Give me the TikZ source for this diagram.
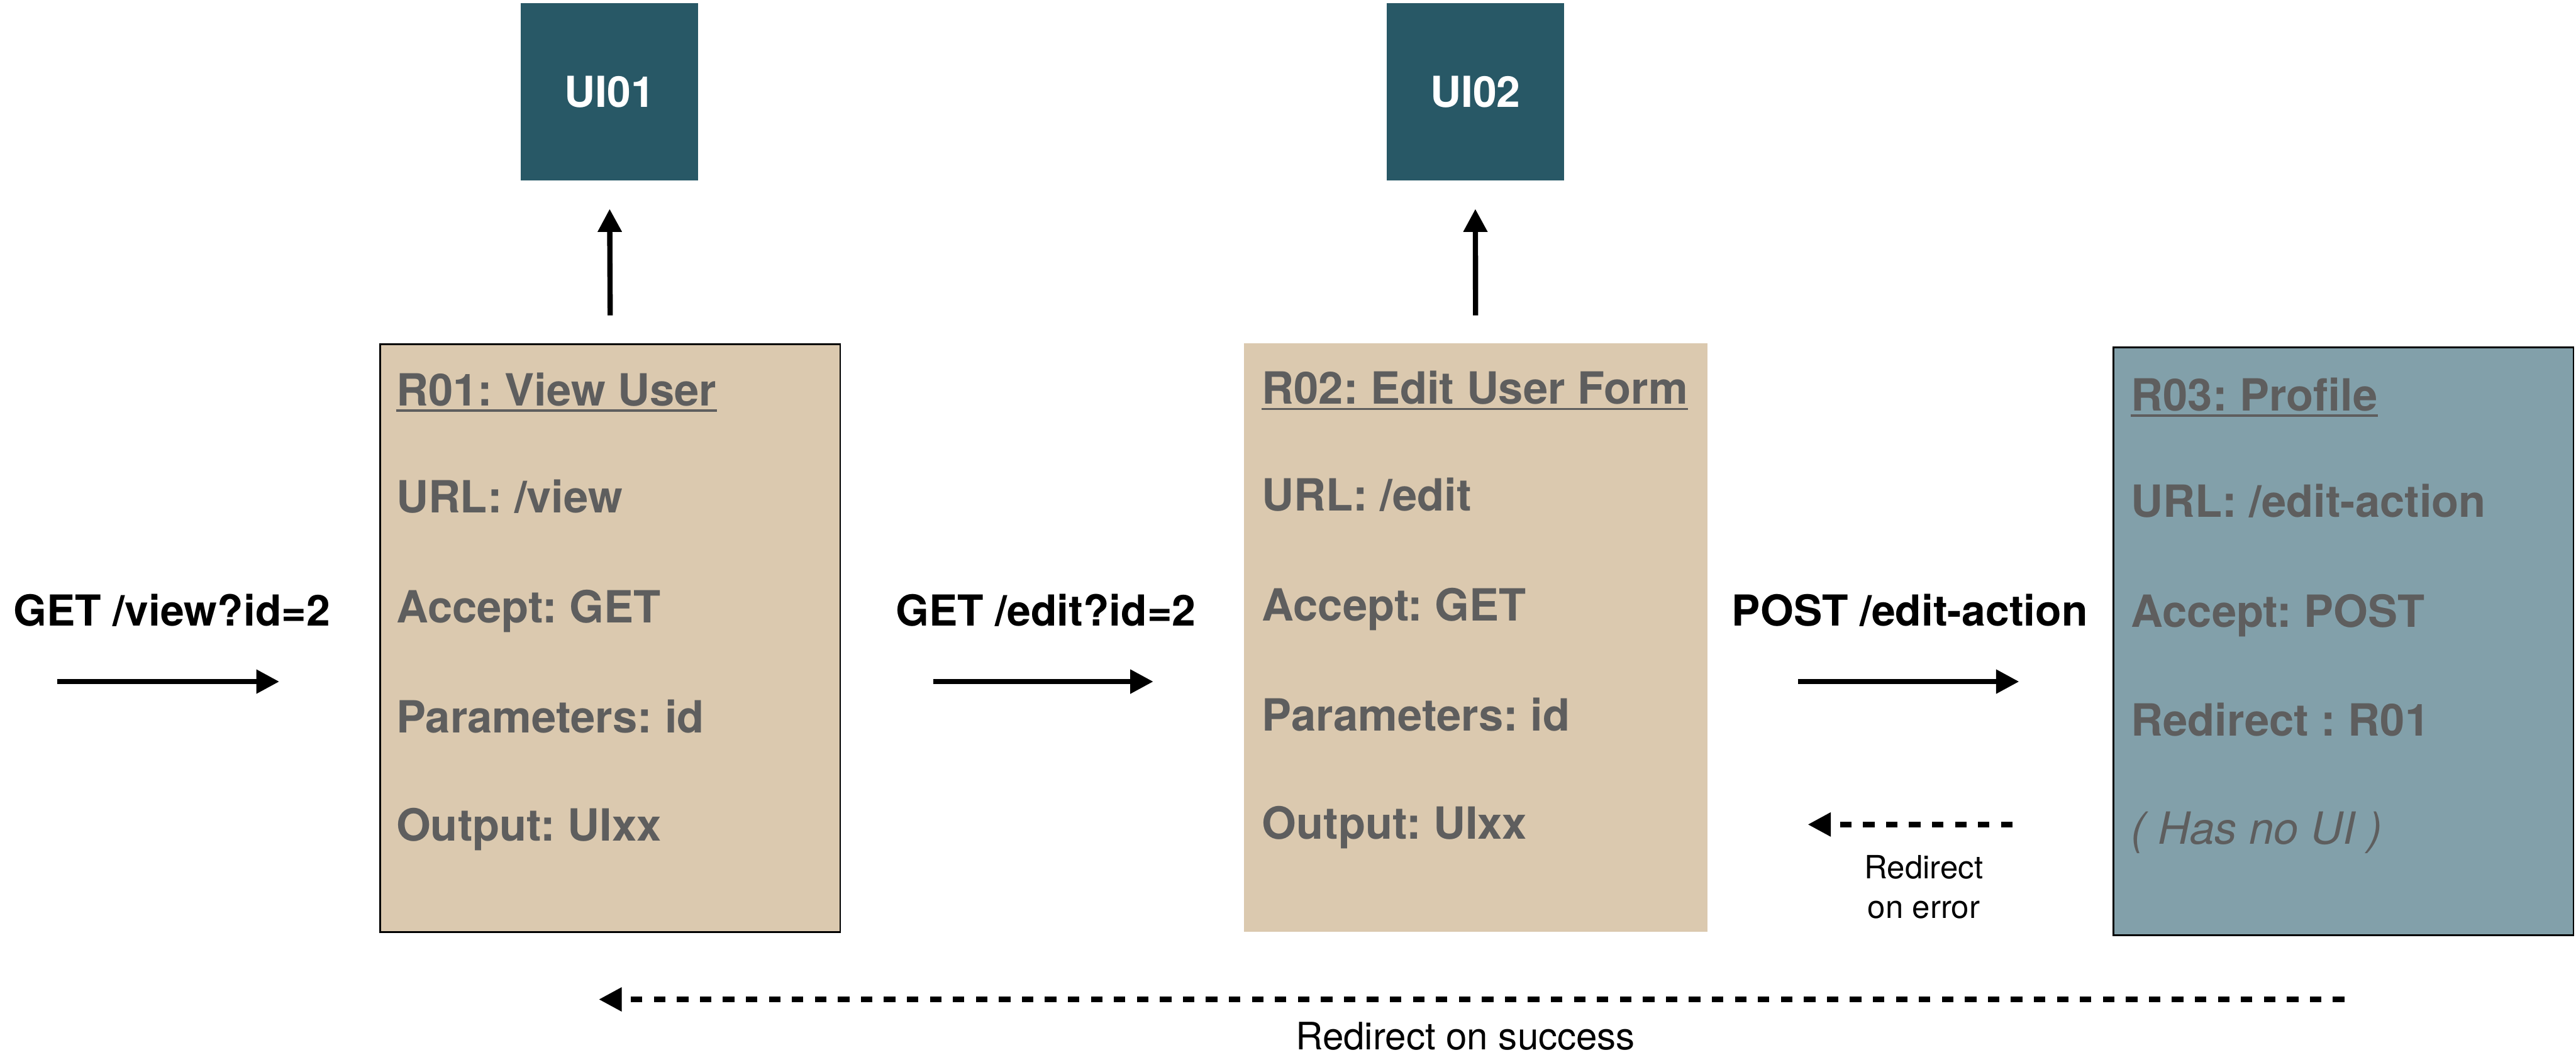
\documentclass[tikz,border=0pt]{standalone}
\usepackage{fontspec}
\setmainfont{TeX Gyre Heros}
\usetikzlibrary{arrows.meta}
\frenchspacing

\definecolor{uiteal}{HTML}{285866}
\definecolor{routetan}{HTML}{DBC9AF}
\definecolor{actionblue}{HTML}{82A0AA}
\definecolor{textgray}{HTML}{5E5E5E}

\tikzset{
  uibox/.style={rectangle, fill=uiteal, minimum width=108pt, minimum height=108pt,
    inner sep=0pt, text=white, font=\fontsize{26}{30}\selectfont\bfseries},
  routebox/.style={rectangle, anchor=north west, inner sep=0pt, minimum height=358pt},
  boxline/.style={anchor=base west, inner sep=0pt, text=textgray,
    font=\fontsize{27}{32}\selectfont\bfseries},
  notenote/.style={anchor=base west, inner sep=0pt, text=textgray,
    font=\fontsize{27}{32}\selectfont\itshape},
  reqlabel/.style={anchor=base west, inner sep=0pt, font=\fontsize{26}{30}\selectfont\bfseries},
  smalllabel/.style={anchor=base, inner sep=0pt, font=\fontsize{19.5}{24}\selectfont},
  flow/.style={-{Triangle[length=14pt,width=14pt]}, line width=3.2pt},
  backflow/.style={flow, dash pattern=on 7pt off 7pt},
  titleline/.style={textgray, line width=1.4pt},
}

\begin{document}
\begin{tikzpicture}[x=1pt,y=-1pt]
\useasboundingbox (0,0) rectangle (1568,642);

% screens
\node[uibox] (ui01) at (371,56) {UI01};
\node[uibox] (ui02) at (898,56) {UI02};

% routes
\node[routebox, fill=routetan, draw=black, line width=1pt, minimum width=280pt] (r01) at (231,209) {};
\node[routebox, fill=routetan, minimum width=282pt] (r02) at (757,209) {};
\node[routebox, fill=actionblue, draw=black, line width=1pt, minimum width=280pt] (r03) at (1286,211) {};

% R01 contents
\node[boxline] (r01t) at (241,247) {R01: View User};
\draw[titleline] ([yshift=-3pt]r01t.base west) -- ([yshift=-3pt]r01t.base east);
\node[boxline] (r01a) at (241,312) {URL: /view};
\node[boxline] (r01b) at (241,379) {Accept: GET};
\node[boxline] (r01c) at (241,446) {Parameters: id};
\node[boxline] (r01d) at (241,512) {Output: UIxx};

% R02 contents
\node[boxline] (r02t) at (768,246) {R02: Edit User Form};
\draw[titleline] ([yshift=-3pt]r02t.base west) -- ([yshift=-3pt]r02t.base east);
\node[boxline] (r02a) at (768,311) {URL: /edit};
\node[boxline] (r02b) at (768,378) {Accept: GET};
\node[boxline] (r02c) at (768,445) {Parameters: id};
\node[boxline] (r02d) at (768,511) {Output: UIxx};

% R03 contents
\node[boxline] (r03t) at (1297,250) {R03: Profile};
\draw[titleline] ([yshift=-3pt]r03t.base west) -- ([yshift=-3pt]r03t.base east);
\node[boxline] (r03a) at (1297,315) {URL: /edit-action};
\node[boxline] (r03b) at (1297,382) {Accept: POST};
\node[boxline] (r03c) at (1297,448) {Redirect : R01};
\node[notenote] (r03d) at (1297,514) {( Has no UI )};

% output arrows to screens
\draw[flow, shorten <=17pt, shorten >=17pt] (r01.north) -- (ui01.south);
\draw[flow, shorten <=17pt, shorten >=17pt] (r02.north) -- (ui02.south);

% requests
\coordinate (lvl) at (0,415);
\coordinate (req) at (35,415);
\node[reqlabel] (l1) at (8,381) {GET /view?id=2};
\node[reqlabel] (l2) at (545,381) {GET /edit?id=2};
\node[reqlabel] (l3) at (1054,381) {POST /edit-action};
\draw[flow, shorten >=61pt] (req) -- (req -| r01.west);
\draw[flow, shorten <=56pt, shorten >=55pt] (r01.east |- lvl) -- (r02.west |- lvl);
\draw[flow, shorten <=55pt, shorten >=57pt] (r02.east |- lvl) -- (r03.west |- lvl);

% redirects
\coordinate (errlvl) at (0,502);
\draw[backflow, shorten <=61pt, shorten >=61pt] (r03.west |- errlvl) -- (r02.east |- errlvl);
\node[smalllabel] (e1) at (1171,535) {Redirect};
\node[smalllabel] (e2) at (1171,559) {on error};

\coordinate (okstart) at (1427,608.5);
\coordinate (okend) at (364.5,608.5);
\draw[backflow] (okstart) -- (okend);
\node[anchor=base, inner sep=0pt, font=\fontsize{23}{27}\selectfont] (s1) at (892,639) {Redirect on success};
\end{tikzpicture}
\end{document}
